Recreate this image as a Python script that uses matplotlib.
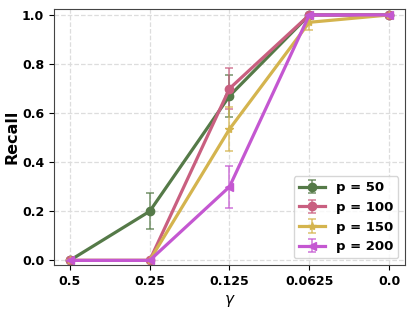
import numpy as np
import matplotlib
matplotlib.use("Agg")
import matplotlib.pyplot as plt

gammas = ['0.5', '0.25', '0.125', '0.0625', '0.0']
labels = ['p = 50', 'p = 100', 'p = 150', 'p = 200']

recall_50 = [0.0, 0.20, 0.67, 1.0, 1.0]
err_50 = [0.0, 0.073, 0.085, 0.0, 0.0]
recall_100 = [0.0, 0.0, 0.70, 1.0, 1.0]
err_100 = [0.0, 0.0, 0.085, 0.0, 0.0]
recall_150 = [0.0, 0.0, 0.535, 0.97, 1.0]
err_150 = [0.0, 0.0, 0.09, 0.03, 0.0]
recall_200 = [0.0, 0.0, 0.30, 1.0, 1.0]
err_200 = [0.0, 0.0, 0.085, 0.0, 0.0]

series = [recall_50, recall_100, recall_150, recall_200]
errors = [err_50, err_100, err_150, err_200]
colors = ['#557a48', '#c95f80', '#d4b44e', '#c457d1']
markers = ['o', 'o', '*', '<']

fig, ax = plt.subplots(figsize=(4.15, 3.1), dpi=100)
x = np.arange(len(gammas))

for vals, errs, c, m, lab in zip(series, errors, colors, markers, labels):
    e = np.array(errs, dtype=float)
    e[e == 0] = np.nan  # no bar where std is zero
    ax.errorbar(x, vals, yerr=e, color=c, marker=m, markersize=6,
                linewidth=2.3, elinewidth=1.2, capsize=3, capthick=1.2,
                ecolor=matplotlib.colors.to_rgba(c, 0.75), label=lab)

ax.set_xticks(x)
ax.set_xticklabels(gammas, fontsize=9, fontweight='bold')
ax.set_yticks([0.0, 0.2, 0.4, 0.6, 0.8, 1.0])
ax.set_yticklabels(['0.0', '0.2', '0.4', '0.6', '0.8', '1.0'], fontsize=9, fontweight='bold')
ax.set_xlim(-0.2, 4.2)
ax.set_ylim(-0.019, 1.023)
ax.set_xlabel(r'$\gamma$', fontsize=11)
ax.set_ylabel('Recall', fontsize=11.5, fontweight='bold', labelpad=2)
ax.grid(True, linestyle='--', color='#dddddd', linewidth=0.9)
for s in ax.spines.values():
    s.set_color('#444444')

leg = ax.legend(loc='lower right', prop={'weight': 'bold', 'size': 9.5})

plt.subplots_adjust(left=0.13, right=0.976, top=0.97, bottom=0.145)
plt.savefig('out.png', dpi=100)
